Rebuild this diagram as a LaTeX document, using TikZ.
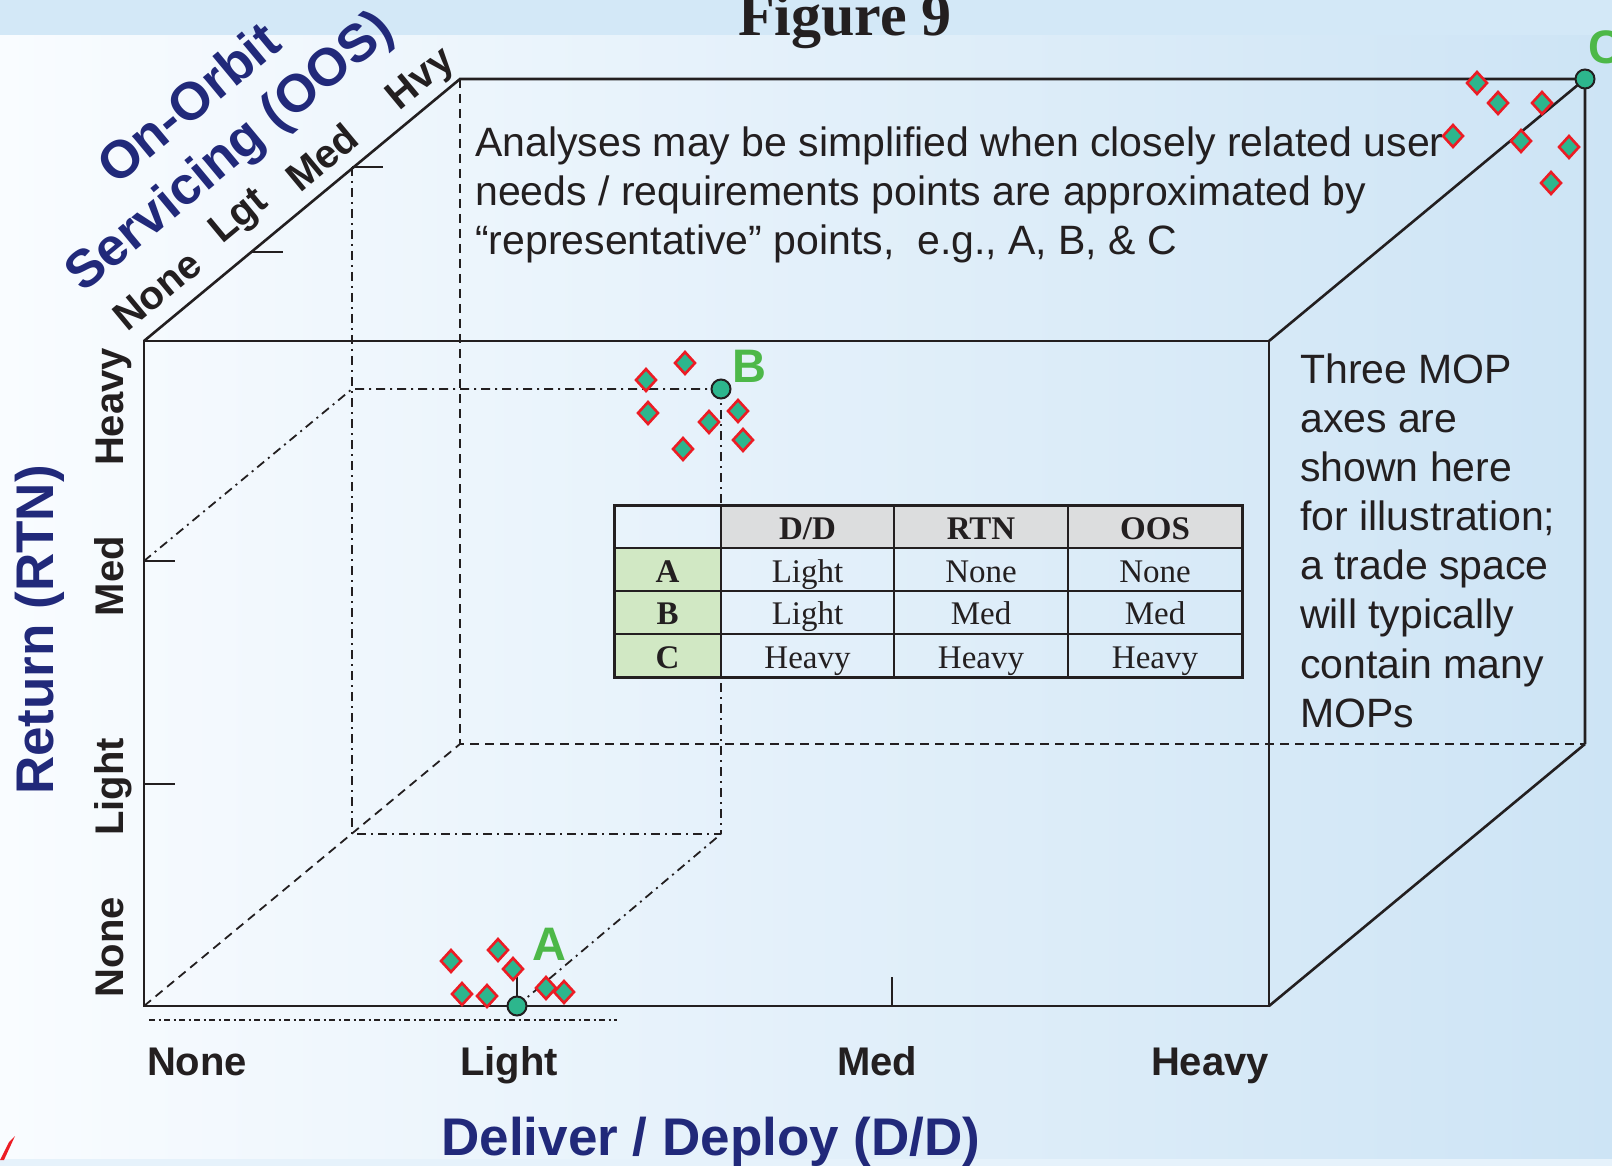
\documentclass[tikz,border=0pt]{standalone}
\usepackage{fontspec}
\setmainfont{Liberation Sans}
\newfontfamily\tabfont{Liberation Serif}
\usetikzlibrary{shapes.geometric}
\definecolor{ink}{HTML}{231F20}
\definecolor{navyt}{HTML}{21297A}
\definecolor{mopteal}{HTML}{2DB68D}
\definecolor{mopred}{HTML}{EC1C24}
\definecolor{labgreen}{HTML}{4DB848}
\definecolor{hdrgray}{HTML}{DCDDDE}
\definecolor{rowgreen}{HTML}{D1E8C4}
\definecolor{bgleft}{HTML}{F9FCFF}
\definecolor{bgright}{HTML}{CDE4F5}
\definecolor{bandtop}{HTML}{D3E8F7}
\definecolor{bandbot}{HTML}{E6F2FB}
\tikzset{
  cubeedge/.style={draw=ink, line width=2.6pt},
  cubehidden/.style={draw=ink, line width=1.8pt, dash pattern=on 9pt off 6pt},
  projline/.style={draw=ink, line width=1.8pt, dash pattern=on 9pt off 5pt on 2pt off 5pt},
  baseproj/.style={draw=ink, line width=1.8pt, dash pattern=on 6pt off 3.5pt on 2pt off 3.5pt},
  axtick/.style={draw=ink, line width=1.6pt},
  tabline/.style={draw=ink, line width=2.6pt},
  refpt/.style={circle, draw=ink, fill=mopteal, line width=2pt, minimum size=19pt, inner sep=0pt},
  mopmark/.style={diamond, draw=mopred, fill=mopteal, line width=2.6pt, minimum width=21pt, minimum height=23pt, inner sep=0pt},
  ptlabel/.style={text=labgreen, font=\fontsize{47}{47}\selectfont\bfseries, inner sep=0pt, anchor=base west},
  axtitle/.style={text=navyt, font=\fontsize{53}{53}\selectfont\bfseries, inner sep=0pt, anchor=base},
  axlevel/.style={text=ink, font=\fontsize{40}{40}\selectfont\bfseries, inner sep=0pt, anchor=base},
  notetext/.style={text=ink, font=\fontsize{41}{41}\selectfont, inner sep=0pt, anchor=base west},
  tcell/.style={text=ink, font=\tabfont\fontsize{33}{33}\selectfont, inner sep=0pt, anchor=base},
  hcell/.style={text=ink, font=\tabfont\fontsize{33}{33}\selectfont\bfseries, inner sep=0pt, anchor=base},
}
\begin{document}
\begin{tikzpicture}[x=1pt, y=-1pt]
\useasboundingbox (0,0) rectangle (1612,1166);
% background
\shade[left color=bgleft, right color=bgright] (0,0) rectangle (1612,1166);
\fill[bandtop] (0,0) rectangle (1612,35);
\fill[bandbot] (0,1159) rectangle (1612,1166);
\fill[mopred] (0,1160) -- (4,1160) -- (15,1136) -- (9,1142) -- cycle;

\node[text=ink, font=\tabfont\fontsize{60}{60}\selectfont\bfseries, inner sep=0pt, anchor=base] (title) at (845,36) {Figure 9};

% cube corners
\coordinate (FBL) at (144,1006);
\coordinate (FTL) at (144,341);
\coordinate (FTR) at (1269,341);
\coordinate (FBR) at (1269,1006);
\coordinate (BBL) at (460,744);
\coordinate (BTL) at (460,79);
\coordinate (BTR) at (1585,79);
\coordinate (BBR) at (1585,744);

% hidden edges
\draw[cubehidden] (BTL) -- (BBL) -- (BBR);
\draw[cubehidden] (FBL) -- (BBL);

% projection points
\coordinate (Bp) at (721,389);
\coordinate (P1) at (352,389);
\coordinate (P3) at (352,834);
\coordinate (P4) at (721,834);
\coordinate (RmedT) at (144,561);
\coordinate (OmedT) at (352,167);
\coordinate (Ap) at (517,1006);
\coordinate (Bl0) at (149,1020);
\coordinate (Bl1) at (617,1020);

\draw[projline] (Bp) -- (P1) -- (RmedT);
\draw[projline] (OmedT) -- (P3) -- (P4);
\draw[projline] (Bp) -- (P4);
\draw[projline] (Ap) -- (P4);
\draw[baseproj] (Bl0) -- (Bl1);

% visible edges
\draw[cubeedge] (FBL) -- (FTL) -- (FTR) -- (FBR) -- cycle;
\draw[cubeedge] (FTL) -- (BTL) -- (BTR) -- (BBR);
\draw[cubeedge] (FTR) -- (BTR);
\draw[cubeedge] (FBR) -- (BBR);

% ticks
\draw[axtick] (144,784) -- (175,784);
\draw[axtick] (144,561) -- (175,561);
\draw[axtick] (251,252) -- (283,252);
\draw[axtick] (352,167) -- (383,167);
\draw[axtick] (517,1006) -- (517,977);
\draw[axtick] (892,1006) -- (892,977);

% table
\fill[hdrgray] (721,505) rectangle (1242,548);
\fill[rowgreen] (614,548) rectangle (721,677);
\draw[tabline] (614,548) -- (1242,548);
\draw[tabline] (614,591) -- (1242,591);
\draw[tabline] (614,634) -- (1242,634);
\draw[tabline] (721,505) -- (721,677);
\draw[tabline] (894,505) -- (894,677);
\draw[tabline] (1068,505) -- (1068,677);
\draw[tabline, line width=3pt] (614,505) rectangle (1242,677);
\node[hcell] (hdd) at (807.5,539) {D/D};
\node[hcell] (hrtn) at (981,539) {RTN};
\node[hcell] (hoos) at (1155,539) {OOS};
\node[hcell] (ra) at (667.5,582) {A};
\node[hcell] (rb) at (667.5,624) {B};
\node[hcell] (rc) at (667.5,668) {C};
\node[tcell] (a1) at (807.5,582) {Light};
\node[tcell] (a2) at (981,582) {None};
\node[tcell] (a3) at (1155,582) {None};
\node[tcell] (b1) at (807.5,624) {Light};
\node[tcell] (b2) at (981,624) {Med};
\node[tcell] (b3) at (1155,624) {Med};
\node[tcell] (c1) at (807.5,668) {Heavy};
\node[tcell] (c2) at (981,668) {Heavy};
\node[tcell] (c3) at (1155,668) {Heavy};

% MOP diamonds
\foreach \x/\y [count=\i] in {451/961,498/950,513/969,462/994,487/996,546/988,564/992}
  \node[mopmark] (ma\i) at (\x,\y) {};
\foreach \x/\y [count=\i] in {685/363,646/380,648/413,709/422,738/411,743/440,683/449}
  \node[mopmark] (mb\i) at (\x,\y) {};
\foreach \x/\y [count=\i] in {1477/83,1498/103,1542/103,1453/136,1521/141,1569/147,1551/183}
  \node[mopmark] (mc\i) at (\x,\y) {};

% representative points
\node[refpt] (ptA) at (Ap) {};
\node[refpt] (ptB) at (Bp) {};
\node[refpt] (ptC) at (BTR) {};
\node[ptlabel] (labA) at (532,960) {A};
\node[ptlabel] (labB) at (732,382) {B};
\node[ptlabel] (labC) at (1588,64) {C};

% axis titles
\node[axtitle, rotate=90] (rtn) at (53,630) {Return (RTN)};
\node[axtitle] (dd) at (711,1155) {Deliver / Deploy (D/D)};
\node[axtitle, rotate=39.7] (oos1) at (200,117) {On-Orbit};
\node[axtitle, rotate=39.7] (oos2) at (240,164) {Servicing (OOS)};

% axis levels
\node[axlevel, rotate=90] (rh) at (123,407) {Heavy};
\node[axlevel, rotate=90] (rm) at (123,576) {Med};
\node[axlevel, rotate=90] (rl) at (123,787) {Light};
\node[axlevel, rotate=90] (rn) at (123,947) {None};
\node[axlevel] (dn) at (197,1075) {None};
\node[axlevel] (dl) at (509,1075) {Light};
\node[axlevel] (dm) at (877,1075) {Med};
\node[axlevel] (dh) at (1210,1075) {Heavy};
\node[axlevel, rotate=39.7] (on) at (166,301) {None};
\node[axlevel, rotate=39.7] (ol) at (246,225) {Lgt};
\node[axlevel, rotate=39.7] (om) at (331,168) {Med};
\node[axlevel, rotate=39.7] (oh) at (428,88) {Hvy};

% notes
\node[notetext] (t1) at (475,157) {Analyses may be simplified when closely related user};
\node[notetext] (t2) at (475,206) {needs / requirements points are approximated by};
\node[notetext] (t3) at (475,255) {“representative” points,\ \ e.g., A, B, \& C};
\node[notetext] (r1) at (1300,383) {Three MOP};
\node[notetext] (r2) at (1300,432) {axes are};
\node[notetext] (r3) at (1300,481) {shown here};
\node[notetext] (r4) at (1300,530) {for illustration;};
\node[notetext] (r5) at (1300,579) {a trade space};
\node[notetext] (r6) at (1300,628) {will typically};
\node[notetext] (r7) at (1300,678) {contain many};
\node[notetext] (r8) at (1300,727) {MOPs};
\end{tikzpicture}
\end{document}
